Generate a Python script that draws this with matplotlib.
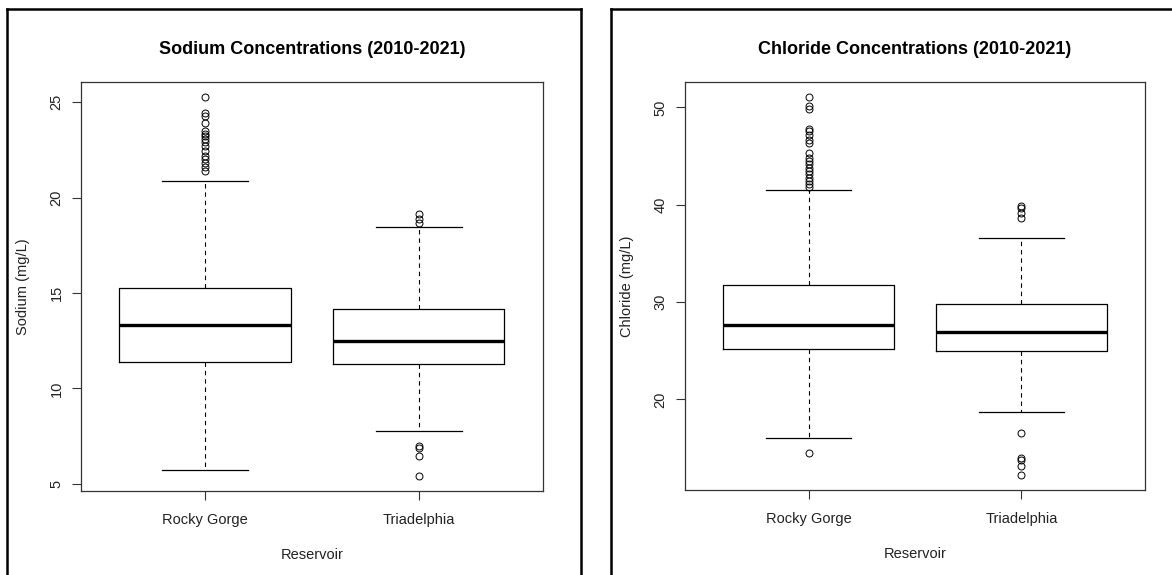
import matplotlib
matplotlib.use("Agg")
import matplotlib.pyplot as plt
from matplotlib.lines import Line2D

plt.rcParams["font.family"] = ["Liberation Sans", "DejaVu Sans"]

# Data
reservoirs = ["Rocky Gorge", "Triadelphia"]

sodium_whislo = [5.73, 7.75]
sodium_q1 = [11.39, 11.28]
sodium_med = [13.32, 12.49]
sodium_q3 = [15.26, 14.16]
sodium_whishi = [20.85, 18.47]
sodium_fliers = [
    [21.39, 21.6, 21.8, 22.0, 22.2, 22.43, 22.7, 22.9, 23.06, 23.22,
     23.32, 23.48, 23.88, 24.27, 24.44, 25.26],
    [19.12, 18.86, 18.65, 6.99, 6.9, 6.47, 5.42],
]

chloride_whislo = [16.0, 18.73]
chloride_q1 = [25.16, 24.93]
chloride_med = [27.61, 26.93]
chloride_q3 = [31.72, 29.8]
chloride_whishi = [41.47, 36.62]
chloride_fliers = [
    [41.81, 42.09, 42.43, 42.76, 43.11, 43.45, 43.79, 44.14, 44.48, 44.82,
     45.33, 46.36, 46.7, 47.2, 47.56, 47.8, 49.8, 50.13, 51.06, 14.53],
    [39.86, 39.62, 39.17, 38.65, 16.53, 13.93, 13.72, 13.2, 12.24],
]

sodium_ticks = [5, 10, 15, 20, 25]
chloride_ticks = [20, 30, 40, 50]


def make_stats(lo, q1, med, q3, hi, fliers):
    stats = []
    for i in range(len(reservoirs)):
        stats.append({"whislo": lo[i], "q1": q1[i], "med": med[i],
                      "q3": q3[i], "whishi": hi[i], "fliers": fliers[i]})
    return stats


def r_boxplot(ax, stats, ticks, title, ylabel, ylab_x):
    ax.bxp(stats, positions=[1, 2], widths=0.8, capwidths=0.4,
           boxprops=dict(color="black", linewidth=0.9),
           medianprops=dict(color="black", linewidth=2.4, solid_capstyle="butt"),
           whiskerprops=dict(color="black", linewidth=0.8, linestyle=(0, (4, 3.5))),
           capprops=dict(color="black", linewidth=0.9),
           flierprops=dict(marker="o", markersize=5, markerfacecolor="none",
                           markeredgecolor="black", markeredgewidth=0.7))
    vals = [v for s in stats for v in [s["whislo"], s["whishi"]] + list(s["fliers"])]
    lo, hi = min(vals), max(vals)
    pad = 0.04 * (hi - lo)
    ax.set_ylim(lo - pad, hi + pad)
    ax.set_xlim(0.42, 2.58)
    ax.set_xticks([1, 2])
    ax.set_xticklabels(reservoirs)
    ax.set_yticks(ticks)
    ax.set_yticklabels([str(t) for t in ticks], rotation=90, va="center")
    ax.tick_params(axis="both", length=6.5, width=0.8, color="#333333",
                   labelsize=10.5, labelcolor="#222222")
    ax.tick_params(axis="x", pad=9)
    ax.tick_params(axis="y", pad=6)
    for sp in ax.spines.values():
        sp.set_linewidth(0.9)
        sp.set_color("#333333")
    ax.set_title(title, fontsize=13, fontweight="bold", pad=20)
    ax.set_xlabel("Reservoir", fontsize=10.5, color="#222222")
    ax.set_ylabel(ylabel, fontsize=10.5, color="#222222")
    ax.xaxis.set_label_coords(0.5, -0.14)
    ax.yaxis.set_label_coords(ylab_x, 0.5)


fig = plt.figure(figsize=(11.72, 5.75), dpi=100)
W, H = 1172, 575

ax1 = fig.add_axes([81 / W, 1 - 491 / H, (543 - 81) / W, (491 - 82) / H])
ax2 = fig.add_axes([685 / W, 1 - 490 / H, (1145 - 685) / W, (490 - 82) / H])

r_boxplot(ax1, make_stats(sodium_whislo, sodium_q1, sodium_med, sodium_q3,
                          sodium_whishi, sodium_fliers),
          sodium_ticks, "Sodium Concentrations (2010-2021)", "Sodium (mg/L)", -0.111)
r_boxplot(ax2, make_stats(chloride_whislo, chloride_q1, chloride_med, chloride_q3,
                          chloride_whishi, chloride_fliers),
          chloride_ticks, "Chloride Concentrations (2010-2021)", "Chloride (mg/L)", -0.111)

# panel frames around each plot (screenshot borders)
frame = dict(color="black", linewidth=1.8, transform=fig.transFigure)
fig.add_artist(Line2D([7 / W, 7 / W], [0, 1 - 9 / H], **frame))
fig.add_artist(Line2D([7 / W, 581 / W], [1 - 9 / H, 1 - 9 / H], **frame))
fig.add_artist(Line2D([581 / W, 581 / W], [0, 1 - 9 / H], **frame))
fig.add_artist(Line2D([611 / W, 611 / W], [0, 1 - 9 / H], **frame))
fig.add_artist(Line2D([611 / W, 1], [1 - 9 / H, 1 - 9 / H], **frame))

fig.savefig("out.png", dpi=100, facecolor="white")
